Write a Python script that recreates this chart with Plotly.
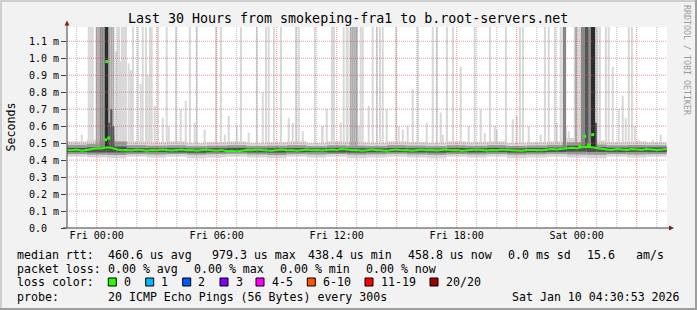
import plotly.graph_objects as go

# ---------------- data (times in hours relative to Fri 00:00, values in ms) ----------------
x_start, x_end = -1.4853, 28.5147
hour_ticks = [0, 6, 12, 18, 24]
hour_labels = ["Fri 00:00", "Fri 06:00", "Fri 12:00", "Fri 18:00", "Sat 00:00"]
y_ticks = [0.0, 0.1, 0.2, 0.3, 0.4, 0.5, 0.6, 0.7, 0.8, 0.9, 1.0, 1.1]
y_labels = ["0.0\u00a0\u00a0", "0.1 m", "0.2 m", "0.3 m", "0.4 m", "0.5 m", "0.6 m",
            "0.7 m", "0.8 m", "0.9 m", "1.0 m", "1.1 m"]

# median rtt, 15 minute steps starting -1.5 h
median_ms = [0.460, 0.458, 0.462, 0.455, 0.460, 0.465, 0.470, 0.468, 0.475, 0.472,
             0.462, 0.458, 0.460, 0.457, 0.462, 0.460, 0.455, 0.460, 0.458, 0.462,
             0.460, 0.457, 0.460, 0.462, 0.458, 0.460, 0.455, 0.460, 0.462, 0.458,
             0.455, 0.460, 0.452, 0.455, 0.450, 0.455, 0.460, 0.458, 0.462, 0.460,
             0.458, 0.455, 0.460, 0.462, 0.458, 0.460, 0.455, 0.460, 0.462, 0.458,
             0.460, 0.457, 0.460, 0.462, 0.460, 0.465, 0.462, 0.458, 0.460, 0.455,
             0.458, 0.462, 0.460, 0.458, 0.455, 0.460, 0.462, 0.458, 0.460, 0.455,
             0.460, 0.462, 0.458, 0.460, 0.457, 0.460, 0.462, 0.458, 0.460, 0.455,
             0.458, 0.460, 0.462, 0.460, 0.457, 0.460, 0.458, 0.462, 0.460, 0.458,
             0.460, 0.455, 0.460, 0.462, 0.460, 0.458, 0.462, 0.465, 0.462, 0.468,
             0.470, 0.472, 0.470, 0.475, 0.478, 0.476, 0.470, 0.465, 0.462, 0.460,
             0.465, 0.462, 0.460, 0.465, 0.462, 0.460, 0.465, 0.462, 0.460, 0.462,
             0.465]
median_t = [-1.5 + 0.25 * i for i in range(len(median_ms))]

# isolated median points
outlier_t = [0.50, 0.45, 0.60, 24.15, 24.40, 24.60, 24.80]
outlier_ms = [0.98, 0.52, 0.53, 0.48, 0.54, 0.49, 0.55]

# hourly smoke band around the median (centers -1 .. 28)
light_lo = [0.420, 0.415, 0.410, 0.420, 0.415, 0.420, 0.410, 0.415, 0.420, 0.415,
            0.410, 0.420, 0.415, 0.420, 0.410, 0.415, 0.420, 0.415, 0.410, 0.420,
            0.415, 0.420, 0.410, 0.415, 0.420, 0.415, 0.410, 0.420, 0.415, 0.420]
light_hi = [0.510, 0.520, 0.550, 0.510, 0.505, 0.510, 0.500, 0.505, 0.510, 0.500,
            0.505, 0.510, 0.500, 0.510, 0.505, 0.500, 0.510, 0.505, 0.500, 0.510,
            0.505, 0.510, 0.500, 0.505, 0.510, 0.530, 0.515, 0.505, 0.510, 0.505]
mid_lo = [0.435, 0.432, 0.430, 0.435, 0.433, 0.436, 0.432, 0.435, 0.437, 0.433,
          0.430, 0.435, 0.433, 0.436, 0.432, 0.434, 0.437, 0.433, 0.431, 0.435,
          0.433, 0.436, 0.432, 0.434, 0.437, 0.433, 0.431, 0.436, 0.433, 0.435]
mid_hi = [0.490, 0.495, 0.510, 0.488, 0.485, 0.487, 0.482, 0.485, 0.488, 0.483,
          0.485, 0.488, 0.482, 0.487, 0.485, 0.483, 0.488, 0.485, 0.482, 0.487,
          0.484, 0.488, 0.483, 0.486, 0.490, 0.505, 0.492, 0.487, 0.489, 0.488]
dark_lo = [0.447, 0.445, 0.445, 0.446, 0.447, 0.445, 0.443, 0.446, 0.447, 0.445,
           0.444, 0.446, 0.447, 0.445, 0.444, 0.446, 0.447, 0.445, 0.444, 0.446,
           0.445, 0.447, 0.444, 0.446, 0.448, 0.450, 0.448, 0.447, 0.448, 0.447]
dark_hi = [0.472, 0.475, 0.480, 0.470, 0.470, 0.471, 0.468, 0.470, 0.472, 0.468,
           0.470, 0.471, 0.469, 0.472, 0.470, 0.469, 0.471, 0.470, 0.468, 0.471,
           0.470, 0.472, 0.469, 0.471, 0.474, 0.485, 0.476, 0.473, 0.474, 0.475]
band_t = [-1.0 + i for i in range(len(light_lo))]

# slow-ping smoke spikes (time, top)
light_t = [-1.25, -0.75, -0.40, -0.30, -0.20, 0.96, 1.06, 1.12, 1.2, 1.26, 1.36, 1.46, 1.6,
           1.75, 1.81, 2.06, 2.2, 2.3, 2.46, 2.55, 2.66, 2.75, 2.9, 3.06, 3.3, 3.5, 3.6,
           3.96, 4.2, 4.45, 4.66, 4.9, 5.0, 5.4, 5.96, 6.21, 6.4, 6.6, 7.0, 7.21, 7.6,
           8.01, 8.3, 8.46, 8.6, 8.86, 9.21, 9.6, 9.8, 9.96, 10.1, 10.3, 10.91, 11.3,
           11.5, 11.76, 11.86, 12.2, 12.35, 12.5, 12.55, 13.1, 13.2, 13.3, 13.6, 13.8,
           14.01, 14.16, 14.3, 14.5, 14.96, 15.1, 15.3, 15.55, 15.8, 16.06, 16.5, 16.8,
           17.01, 17.2, 17.3, 17.51, 17.81, 18.2, 18.6, 18.9, 19.2, 19.4, 19.66, 19.9,
           20.0, 20.46, 20.8, 21.0, 21.16, 21.31, 21.6, 22.2, 22.41, 22.6, 22.91, 23.0,
           23.2, 23.45, 23.6, 23.9, 24.06, 24.16, 24.96, 25.04, 25.16, 25.46, 25.6, 25.8,
           26.1, 26.3, 26.45, 26.6, 26.76, 26.9, 27.1, 27.5, 27.8, 28.2]
light_top = [0.50, 0.55, 1.3, 1.3, 1.3, 1.04, 1.3, 1.3, 0.98, 1.3, 1.3, 1.3, 0.97,
             0.93, 1.3, 1.3, 0.85, 1.3, 1.3, 0.90, 1.3, 1.3, 0.72, 1.3, 0.65, 1.3, 0.60,
             1.3, 0.70, 0.75, 1.3, 0.62, 1.3, 0.58, 1.3, 1.3, 0.55, 0.66, 0.60, 1.3, 0.56,
             1.3, 0.80, 1.3, 1.3, 1.3, 1.3, 0.65, 0.62, 1.3, 1.3, 0.57, 1.3, 0.60,
             0.70, 1.3, 1.3, 0.62, 1.3, 1.3, 1.3, 0.60, 1.3, 1.3, 0.72, 1.3,
             1.3, 1.3, 1.3, 0.70, 1.3, 0.60, 0.58, 0.60, 0.82, 1.3, 0.62, 1.3,
             1.3, 0.68, 0.55, 1.3, 1.3, 0.95, 0.60, 1.3, 0.70, 0.56, 1.3, 0.60,
             0.58, 1.3, 0.64, 0.66, 1.3, 1.3, 0.60, 0.55, 1.3, 1.3, 1.3, 0.62,
             1.3, 0.60, 0.57, 1.3, 1.3, 1.3, 1.3, 1.3, 1.3, 1.3, 1.3, 0.95,
             0.70, 0.78, 0.65, 1.3, 1.3, 0.60, 0.52, 0.50, 0.52, 0.55]
med1_t = [0.0, 0.1, 0.63, 0.73, 0.83, 12.7, 12.8, 12.9, 13.0, 23.96]
med1_top = [1.3, 1.3, 1.3, 1.3, 1.3, 1.3, 1.3, 1.3, 1.3, 1.3]
med2_t = [0.2, 0.3, 0.4, 23.35, 23.42, 24.26, 24.36, 24.61, 24.71]
med2_top = [1.3, 1.3, 1.3, 1.3, 1.3, 1.3, 1.3, 1.3, 1.3]
dark_t = [0.63, 0.73, 0.83, 24.46, 24.52, 24.96]
dark_top = [0.62, 0.70, 0.60, 1.3, 1.3, 0.62]
black_t = [0.46, 0.54, 24.80, 24.88]
black_top = [1.3, 1.3, 1.3, 1.3]

loss_labels = ["0", "1", "2", "3", "4-5", "6-10", "11-19", "20/20"]
loss_colors = ["#26ff00", "#00b8ff", "#0059ff", "#7e00ff", "#ff00ff", "#ff5500", "#ff0000", "#a00000"]

# ---------------- figure ----------------
L, R, T, B = 67, 667, 27, 228
W, H = 697, 310
def px(x): return (x - L) / (R - L)
def py(y): return (B - y) / (B - T)

fig = go.Figure()

def add_range_bars(t, lo, hi, color, width):
    fig.add_trace(go.Bar(x=t, base=lo, y=[h - l for h, l in zip(hi, lo)], width=width,
                         marker=dict(color=color, line=dict(width=0)), hoverinfo="skip"))

def add_spikes(t, top, base, color, width):
    fig.add_trace(go.Bar(x=t, base=[base] * len(t), y=[v - base for v in top], width=width,
                         marker=dict(color=color, line=dict(width=0)), hoverinfo="skip"))

add_range_bars(band_t, light_lo, light_hi, "#d6d6d6", 1.0)
add_spikes(light_t, light_top, 0.49, "#d8d8d8", 0.1)
add_spikes(med1_t, med1_top, 0.47, "#acacac", 0.1)
add_range_bars(band_t, mid_lo, mid_hi, "#9a9a9a", 1.0)
add_spikes(med2_t, med2_top, 0.47, "#858585", 0.1)
add_range_bars(band_t, dark_lo, dark_hi, "#505050", 1.0)
add_spikes(dark_t, dark_top, 0.47, "#555555", 0.1)
add_spikes(black_t, black_top, 0.47, "#2c2c2c", 0.08)

fig.add_trace(go.Scatter(x=median_t, y=median_ms, mode="lines",
                         line=dict(color="#26ff00", width=2), hoverinfo="skip"))
fig.add_trace(go.Scatter(x=outlier_t, y=outlier_ms, mode="markers",
                         marker=dict(color="#26ff00", size=3, symbol="square", line=dict(width=0)),
                         hoverinfo="skip"))

mono = "DejaVu Sans Mono"
shapes = []
# grid (drawn on top like rrdtool)
MAJ = "rgba(222,79,79,0.6)"
MIN = "rgba(143,143,143,0.6)"
for v in y_ticks[1:]:
    shapes.append(dict(type="line", xref="paper", yref="y", x0=0, x1=1, y0=v, y1=v,
                       line=dict(color=MAJ, width=1, dash="1px,1px"), layer="above"))
for h in range(-1, 29):
    major = (h % 3 == 0)
    shapes.append(dict(type="line", xref="x", yref="paper", x0=h, x1=h, y0=0, y1=1,
                       line=dict(color=MAJ if major else MIN, width=1, dash="1px,1px"),
                       layer="above"))
# axes
AX = "#404040"
shapes.append(dict(type="line", xref="paper", yref="paper", x0=px(67), x1=px(67),
                   y0=py(228), y1=py(24), line=dict(color=AX, width=1), layer="above"))
shapes.append(dict(type="line", xref="paper", yref="paper", x0=px(63), x1=px(670),
                   y0=py(228), y1=py(228), line=dict(color=AX, width=1), layer="above"))
ARW = "#801f1f"
shapes.append(dict(type="path", xref="paper", yref="paper",
                   path=f"M {px(64.5)},{py(25.5)} L {px(69.5)},{py(25.5)} L {px(67)},{py(20.5)} Z",
                   fillcolor=ARW, line=dict(width=0), layer="above"))
shapes.append(dict(type="path", xref="paper", yref="paper",
                   path=f"M {px(669)},{py(225.5)} L {px(669)},{py(230.5)} L {px(674)},{py(228)} Z",
                   fillcolor=ARW, line=dict(width=0), layer="above"))
# 3d frame
shapes.append(dict(type="rect", xref="paper", yref="paper", x0=px(0), x1=px(697), y0=py(0), y1=py(2),
                   fillcolor="#cfcfcf", line=dict(width=0)))
shapes.append(dict(type="rect", xref="paper", yref="paper", x0=px(0), x1=px(2), y0=py(0), y1=py(310),
                   fillcolor="#cfcfcf", line=dict(width=0)))
shapes.append(dict(type="rect", xref="paper", yref="paper", x0=px(695), x1=px(697), y0=py(0), y1=py(310),
                   fillcolor="#9e9e9e", line=dict(width=0)))
shapes.append(dict(type="rect", xref="paper", yref="paper", x0=px(0), x1=px(697), y0=py(308), y1=py(310),
                   fillcolor="#9e9e9e", line=dict(width=0)))

annotations = []
def text(s, x, y, size=11.6, anchor="left", color="black", angle=0):
    annotations.append(dict(text=s.replace(" ", "\u00a0"), x=px(x), y=py(y), xref="paper", yref="paper",
                            xanchor=anchor, yanchor="middle", showarrow=False, textangle=angle,
                            font=dict(family=mono, size=size, color=color), borderpad=0))

text("Last 30 Hours from smokeping-fra1 to b.root-servers.net", 348, 19, size=13.3, anchor="center")
text("Seconds", 10.5, 127, size=11.6, anchor="center", angle=-90)
text("RRDTOOL / TOBI OETIKER", 687, 60, size=8.3, anchor="center", color="#9a9a9a", angle=90)

row1, row2, row3, row4 = 254.5, 268.5, 282, 296.5
text("median rtt:", 16, row1)
text("460.6 us avg", 107, row1)
text("979.3 us max", 210.5, row1)
text("438.4 us min", 307, row1)
text("458.8 us now", 407, row1)
text("0.0 ms sd", 507, row1)
text("15.6", 586, row1)
text("am/s", 635, row1)

text("packet loss:", 16, row2)
text("0.00 % avg", 107, row2)
text("0.00 % max", 193, row2)
text("0.00 % min", 279.3, row2)
text("0.00 % now", 365, row2)

text("loss color:", 16, row3)
box_x = [108.3, 145.7, 182.7, 220, 256, 307.3, 365, 430]
for bx, lab, col in zip(box_x, loss_labels, loss_colors):
    shapes.append(dict(type="rect", xref="paper", yref="paper", x0=px(bx), x1=px(bx + 8),
                       y0=py(row3 + 4), y1=py(row3 - 4), fillcolor=col,
                       line=dict(color="black", width=1)))
    text(lab, bx + 14.5, row3)

text("probe:", 16, row4)
text("20 ICMP Echo Pings (56 Bytes) every 300s", 107, row4)
text("Sat Jan 10 04:30:53 2026", 680.5, row4, anchor="right")

fig.update_layout(
    width=W, height=H, margin=dict(l=L, r=W - R, t=T, b=H - B, pad=0),
    paper_bgcolor="#f2f2f2", plot_bgcolor="white", showlegend=False, barmode="overlay",
    shapes=shapes, annotations=annotations,
    xaxis=dict(range=[x_start, x_end], tickvals=hour_ticks, ticktext=hour_labels,
               showgrid=False, zeroline=False, showline=False, ticks="",
               tickfont=dict(family=mono, size=10, color="black"), fixedrange=True),
    yaxis=dict(range=[0, 1.184], tickvals=y_ticks, ticktext=y_labels,
               showgrid=False, zeroline=False, showline=False, ticks="outside", ticklen=5,
               tickcolor=AX, tickfont=dict(family=mono, size=10, color="black"), fixedrange=True),
)

fig.write_html("out.html")
